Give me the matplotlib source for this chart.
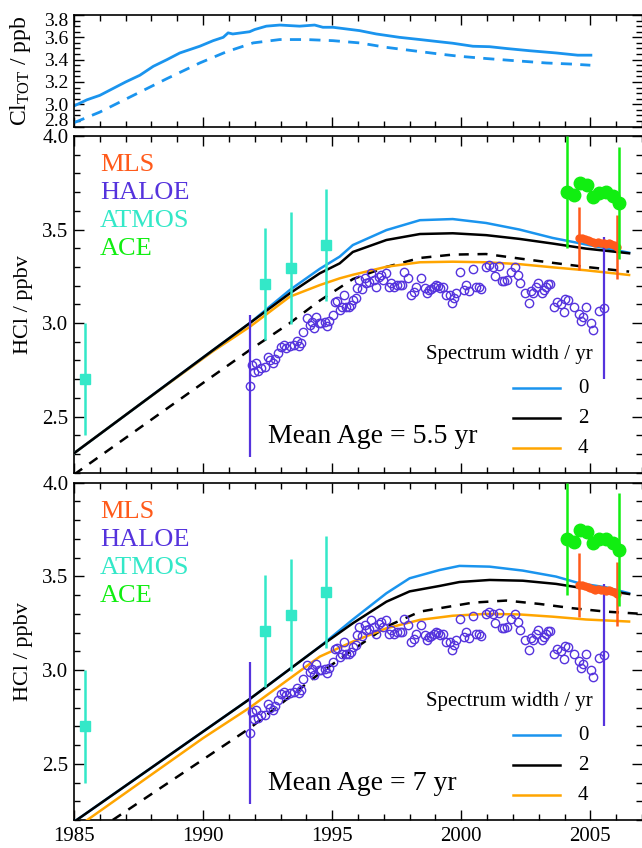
import numpy as np
import matplotlib.pyplot as plt
import matplotlib.transforms as mtransforms
from matplotlib.ticker import MultipleLocator

plt.rcParams['font.family'] = ['Liberation Serif', 'DejaVu Serif']
plt.rcParams['mathtext.fontset'] = 'custom'
plt.rcParams['mathtext.rm'] = 'Liberation Serif'
plt.rcParams['mathtext.it'] = 'Liberation Serif:italic'

# colours
c_blue = '#1a94ee'
c_orange = '#ffa500'
c_mls = '#ff5a1a'
c_haloe = '#5533dd'
c_atmos = '#33e8c8'
c_ace = '#11ee11'

# ---- top panel: total chlorine ----
cl_years = [1985.0, 1985.5, 1986.0, 1986.5, 1987.0, 1987.55, 1988.07, 1988.6, 1989.1, 1989.87,
            1990.39, 1990.78, 1990.97, 1991.15, 1991.8, 1992.0, 1992.45, 1992.97, 1993.74, 1994.32,
            1994.64, 1995.03, 1996.06, 1996.71, 1997.6, 1998.4, 1999.16, 1999.67, 2000.45, 2001.1,
            2001.74, 2002.64, 2003.67, 2004.51, 2005.02]
cl_tot = [2.985, 3.04, 3.08, 3.14, 3.20, 3.26, 3.34, 3.40, 3.46, 3.52,
          3.57, 3.60, 3.64, 3.63, 3.65, 3.67, 3.70, 3.71, 3.70, 3.71,
          3.69, 3.69, 3.66, 3.63, 3.60, 3.58, 3.56, 3.547, 3.52, 3.516,
          3.50, 3.48, 3.46, 3.44, 3.44]
cl_years_d = [1985.0, 1986.0, 1987.3, 1988.6, 1989.87, 1990.9, 1991.94, 1992.97, 1994.0, 1995.03,
              1996.06, 1997.1, 1998.13, 1999.16, 1999.93, 2000.96, 2002.1, 2003.3, 2004.3, 2005.0]
cl_tot_d = [2.835, 2.93, 3.08, 3.23, 3.37, 3.47, 3.55, 3.58, 3.58, 3.57,
            3.55, 3.51, 3.48, 3.45, 3.43, 3.41, 3.39, 3.37, 3.36, 3.35]

# ---- model curves, mean age 5.5 yr ----
m_years = [1985.0, 1987.55, 1990.39, 1991.81, 1993.36, 1994.52, 1995.29, 1995.8, 1997.1, 1998.4,
           1999.67, 2000.96, 2002.25, 2003.54, 2004.83, 2006.5]
a55_w0 = [2.304, 2.565, 2.856, 3.0, 3.177, 3.29, 3.355, 3.417, 3.497, 3.55,
          3.556, 3.535, 3.50, 3.455, 3.42, 3.376]
a55_w2 = [2.304, 2.565, 2.856, 3.0, 3.159, 3.266, 3.319, 3.38, 3.444, 3.476,
          3.48, 3.47, 3.45, 3.425, 3.398, 3.373]
a55_w4 = [2.304, 2.565, 2.85, 2.98, 3.141, 3.203, 3.239, 3.258, 3.301, 3.325,
          3.328, 3.325, 3.315, 3.298, 3.282, 3.257]
a55_dash_years = [1985.0, 1987.55, 1990.0, 1991.81, 1993.36, 1994.52, 1995.8, 1997.1, 1998.4,
                  1999.67, 2000.96, 2002.25, 2003.54, 2004.83, 2006.5]
a55_dash = [2.19, 2.44, 2.68, 2.856, 3.0, 3.12, 3.235, 3.30, 3.348,
            3.366, 3.369, 3.345, 3.322, 3.30, 3.275]

# ---- model curves, mean age 7 yr ----
b_years = [1985.0, 1990.0, 1991.81, 1994.52, 1995.8, 1997.1, 1998.0, 1999.16, 1999.93, 2001.1,
           2002.38, 2003.67, 2004.58, 2005.6, 2006.5]
a7_w0 = [2.19, 2.672, 2.846, 3.125, 3.27, 3.41, 3.49, 3.534, 3.556, 3.552,
         3.531, 3.499, 3.463, 3.442, 3.41]
a7_w2 = [2.19, 2.672, 2.846, 3.125, 3.25, 3.365, 3.42, 3.449, 3.47, 3.481,
         3.477, 3.46, 3.44, 3.425, 3.406]
b_years4 = [1985.0, 1990.0, 1991.81, 1994.52, 1995.8, 1997.1, 1998.4, 1999.67, 2000.96, 2002.25,
            2003.54, 2004.83, 2006.5]
a7_w4 = [2.15, 2.637, 2.80, 3.072, 3.152, 3.223, 3.268, 3.29, 3.30, 3.297,
         3.285, 3.27, 3.259]
b_dash_years = [1986.5, 1991.81, 1994.52, 1995.8, 1997.1, 1998.4, 1999.16, 2000.45, 2001.74, 2003.03,
                2004.32, 2005.6, 2007.0]
a7_dash = [2.2, 2.69, 2.983, 3.108, 3.232, 3.312, 3.33, 3.36, 3.371, 3.353,
           3.33, 3.312, 3.30]

# ---- observations ----
haloe_t = [1991.81, 1991.90, 1992.04, 1991.96, 1992.13, 1992.26, 1992.39, 1992.52, 1992.61, 1992.71,
           1992.78, 1992.90, 1993.03, 1993.12, 1993.23, 1993.36, 1993.51, 1993.62, 1993.70, 1993.81,
           1993.87, 1994.03, 1994.13, 1994.23, 1994.28, 1994.39, 1994.49, 1994.58, 1994.71, 1994.80,
           1994.88, 1995.03, 1995.10, 1995.19, 1995.29, 1995.38, 1995.44, 1995.55, 1995.65, 1995.74,
           1995.80, 1995.91, 1995.96, 1996.04, 1996.17, 1996.26, 1996.32, 1996.42, 1996.52, 1996.61,
           1996.71, 1996.81, 1996.90, 1996.97, 1997.07, 1997.20, 1997.29, 1997.38, 1997.51, 1997.61,
           1997.72, 1997.80, 1997.93, 1998.06, 1998.15, 1998.26, 1998.45, 1998.58, 1998.67, 1998.74,
           1998.84, 1998.93, 1999.03, 1999.09, 1999.19, 1999.31, 1999.42, 1999.55, 1999.65, 1999.70,
           1999.81, 1999.96, 2000.09, 2000.19, 2000.29, 2000.45, 2000.58, 2000.68, 2000.77, 2000.94,
           2001.09, 2001.22, 2001.29, 2001.45, 2001.58, 2001.67, 2001.76, 2001.93, 2002.10, 2002.19,
           2002.28, 2002.45, 2002.61, 2002.70, 2002.79, 2002.90, 2002.96, 2003.13, 2003.22, 2003.28,
           2003.35, 2003.44, 2003.61, 2003.70, 2003.87, 2003.96, 2004.03, 2004.12, 2004.38, 2004.55,
           2004.64, 2004.73, 2004.83, 2005.03, 2005.12, 2005.35, 2005.54]
haloe_v = [2.664, 2.776, 2.785, 2.74, 2.745, 2.758, 2.763, 2.82, 2.80, 2.785,
           2.81, 2.838, 2.874, 2.883, 2.865, 2.877, 2.883, 2.906, 2.877, 2.895,
           2.954, 3.025, 2.99, 3.007, 2.972, 3.034, 3.002, 3.002, 3.007, 2.984,
           3.013, 3.043, 3.114, 3.12, 3.07, 3.087, 3.15, 3.087, 3.087, 3.097,
           3.123, 3.132, 3.186, 3.23, 3.18, 3.239, 3.216, 3.221, 3.266, 3.23,
           3.191, 3.248, 3.257, 3.23, 3.266, 3.194, 3.212, 3.194, 3.203, 3.203,
           3.203, 3.275, 3.239, 3.15, 3.168, 3.194, 3.239, 3.186, 3.159, 3.177,
           3.18, 3.194, 3.203, 3.198, 3.186, 3.191, 3.15, 3.15, 3.106, 3.132,
           3.162, 3.275, 3.177, 3.203, 3.173, 3.287, 3.194, 3.194, 3.18, 3.301,
           3.31, 3.301, 3.252, 3.305, 3.226, 3.226, 3.23, 3.275, 3.298, 3.257,
           3.212, 3.159, 3.106, 3.173, 3.162, 3.194, 3.216, 3.159, 3.177, 3.194,
           3.209, 3.209, 3.084, 3.114, 3.102, 3.061, 3.127, 3.123, 3.087, 3.048,
           3.013, 3.034, 3.084, 3.002, 2.963, 3.066, 3.079]
haloe_err = 0.38

atmos_t = [1985.43, 1992.39, 1993.39, 1994.77]
atmos_v = [2.70, 3.209, 3.293, 3.417]
atmos_err = [0.30, 0.30, 0.30, 0.30]

ace_t = [2004.10, 2004.38, 2004.61, 2004.86, 2005.12, 2005.35, 2005.60, 2005.86, 2006.12]
ace_v = [3.70, 3.685, 3.747, 3.738, 3.676, 3.697, 3.70, 3.679, 3.643]
ace_err = 0.30

mls_t = [2004.57, 2004.68, 2004.78, 2004.90, 2004.99, 2005.09, 2005.19, 2005.30, 2005.41, 2005.51,
         2005.61, 2005.71, 2005.81, 2005.90, 2006.04]
mls_v = [3.453, 3.456, 3.448, 3.444, 3.439, 3.432, 3.43, 3.432, 3.426, 3.43,
         3.423, 3.426, 3.421, 3.417, 3.405]
mls_err = 0.17

fig = plt.figure(figsize=(6.42, 8.48), dpi=100)
L, R = 74 / 642, 1.0
ax0 = fig.add_axes([L, 1 - 126.6 / 848, R - L, (126.6 - 15) / 848])
ax1 = fig.add_axes([L, 1 - 472.7 / 848, R - L, (472.7 - 136) / 848])
ax2 = fig.add_axes([L, 1 - 820 / 848, R - L, (820 - 482.7) / 848])


def style(ax):
    ax.set_xlim(1985, 2007)
    ax.xaxis.set_major_locator(MultipleLocator(5))
    ax.xaxis.set_minor_locator(MultipleLocator(1))
    ax.tick_params(which='both', direction='in', top=True, right=True, labelsize=15, width=1.0)
    ax.tick_params(which='major', length=7, pad=4)
    ax.tick_params(axis='x', which='major', pad=5)
    ax.tick_params(which='minor', length=4.5)
    for s in ax.spines.values():
        s.set_linewidth(1.2)
    ax.spines['right'].set_visible(False)
    ax.yaxis.set_label_coords(-0.072, 0.5)


style(ax0)
ax0.plot(cl_years, cl_tot, color=c_blue, lw=2)
ax0.plot(cl_years_d, cl_tot_d, color=c_blue, lw=2, dashes=(4, 3))
ax0.set_ylim(2.8, 3.8)
ax0.yaxis.set_minor_locator(MultipleLocator(0.05))
ax0.set_yticks([2.8, 3.0, 3.2, 3.4, 3.6, 3.8])
ax0.set_yticklabels(['2.8', '3.0', '3.2', '3.4', '3.6', '3.8'])
ax0.tick_params(axis='y', labelsize=14)
ax0.tick_params(axis='x', labelbottom=False)
ax0.set_ylabel(r'Cl$_{\mathrm{TOT}}$ / ppb', fontsize=17)
# nudge the crowded end labels inward, as in the original
tl = ax0.get_yticklabels()
tl[0].set_transform(tl[0].get_transform() +
                    mtransforms.ScaledTranslation(0, 5 / 72, fig.dpi_scale_trans))
tl[-1].set_transform(tl[-1].get_transform() +
                     mtransforms.ScaledTranslation(0, -3 / 72, fig.dpi_scale_trans))

panels = [
    (ax1, [(m_years, a55_w0), (m_years, a55_w2), (m_years, a55_w4)],
     (a55_dash_years, a55_dash), 'Mean Age = 5.5 yr'),
    (ax2, [(b_years, a7_w0), (b_years, a7_w2), (b_years4, a7_w4)],
     (b_dash_years, a7_dash), 'Mean Age = 7 yr'),
]

for ax, curves, dash, label in panels:
    style(ax)
    ax.set_ylim(2.2, 4.0)
    ax.yaxis.set_major_locator(MultipleLocator(0.5))
    ax.yaxis.set_minor_locator(MultipleLocator(0.1))
    ax.set_ylabel('HCl / ppbv', fontsize=16)

    ax.plot(dash[0], dash[1], color='black', lw=1.8, dashes=(4, 3.5), zorder=3)
    ax.plot(curves[2][0], curves[2][1], color=c_orange, lw=1.8, zorder=3)
    ax.plot(curves[0][0], curves[0][1], color=c_blue, lw=1.8, zorder=3)
    ax.plot(curves[1][0], curves[1][1], color='black', lw=1.8, zorder=4)

    # HALOE
    ax.plot(haloe_t, haloe_v, 'o', ms=6, mfc='none', mec=c_haloe, mew=1.0, zorder=5)
    ax.errorbar([haloe_t[0], haloe_t[-1]], [haloe_v[0], haloe_v[-1]], yerr=haloe_err,
                fmt='none', ecolor=c_haloe, elinewidth=1.6, zorder=5)
    # ATMOS
    ax.errorbar(atmos_t, atmos_v, yerr=atmos_err, fmt='s', ms=7, color=c_atmos,
                elinewidth=1.8, zorder=6)
    # MLS
    ax.plot(mls_t, mls_v, '-o', color=c_mls, ms=5, lw=2, zorder=6)
    ax.errorbar([mls_t[0], mls_t[-1]], [mls_v[0], mls_v[-1]], yerr=mls_err,
                fmt='none', ecolor=c_mls, elinewidth=1.8, zorder=6)
    # ACE
    ax.plot(ace_t, ace_v, '-o', color=c_ace, ms=9, lw=2, zorder=7)
    ax.errorbar([ace_t[0], ace_t[-1]], [ace_v[0], ace_v[-1]], yerr=ace_err,
                fmt='none', ecolor=c_ace, elinewidth=1.8, zorder=7)

    # instrument names
    for i, (name, col) in enumerate([('MLS', c_mls), ('HALOE', c_haloe),
                                     ('ATMOS', c_atmos), ('ACE', c_ace)]):
        ax.text(0.046, 0.914 - i * 0.0835, name, color=col, fontsize=19,
                transform=ax.transAxes, ha='left', va='center')

    ax.text(0.3415, 0.107, label, fontsize=20, transform=ax.transAxes,
            ha='left', va='center')

    # spectrum width legend
    ax.text(0.914, 0.35, 'Spectrum width / yr', fontsize=15, transform=ax.transAxes,
            ha='right', va='center')
    for i, (w, col) in enumerate([('0', c_blue), ('2', 'black'), ('4', c_orange)]):
        yy = 0.251 - i * 0.089
        ax.plot([0.7735, 0.8556], [yy, yy], color=col, lw=1.8, transform=ax.transAxes)
        ax.text(0.8967, yy, w, fontsize=15, transform=ax.transAxes, ha='center', va='center')

ax1.tick_params(axis='x', labelbottom=False)
ax2.set_xticks([1985, 1990, 1995, 2000, 2005])

fig.savefig('out.png', dpi=100)
